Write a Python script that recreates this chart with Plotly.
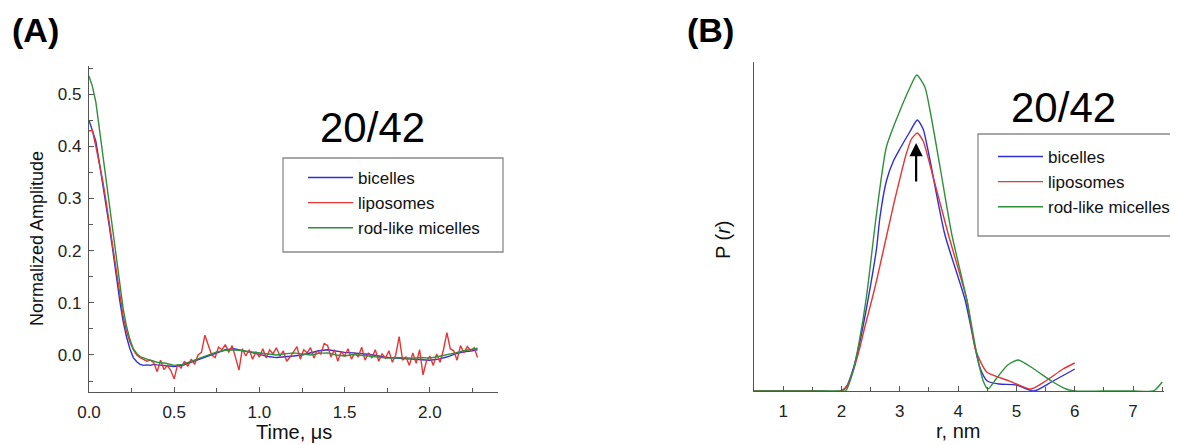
import plotly.graph_objects as go

# ---------------- Panel A data (DEER time traces) ----------------
t_red_step = 0.02
red = [0.43, 0.43, 0.40, 0.37, 0.335, 0.295, 0.25, 0.205, 0.16, 0.115,
       0.075, 0.045, 0.025, 0.01, 0.0, -0.005,
       -0.008, -0.012, -0.010, -0.015, -0.032,
       -0.010, -0.028, -0.020, -0.030, -0.046, -0.018, -0.025, -0.012, -0.022, -0.008,
       -0.018, 0.000, 0.005, 0.038, 0.020, 0.000, -0.005, 0.015, 0.010, 0.020,
       0.005, 0.018, -0.005, -0.029, 0.012, -0.002, 0.010, -0.008, 0.006, -0.004,
       0.012, -0.006, 0.010, 0.002, 0.014, -0.002, 0.008, -0.012, -0.004, 0.006,
       0.016, -0.008, 0.010, 0.004, 0.014, -0.006, 0.008, 0.002, 0.022, 0.018,
       -0.004, 0.010, -0.012, 0.006, -0.002, 0.012, -0.008, 0.004, -0.004, 0.015,
       -0.010, 0.004, -0.006, 0.010, -0.012, 0.002, -0.006, 0.008, -0.014, 0.000,
       0.035, -0.010, -0.004, -0.020, 0.004, -0.016, 0.010, -0.038, -0.012, -0.002,
       -0.020, 0.002, -0.014, 0.010, 0.043, 0.012, 0.008, -0.010, 0.018, 0.004,
       0.016, 0.008, 0.014, -0.005]
t_red = [round(i * t_red_step, 2) for i in range(len(red))]

t_bg = [0.00, 0.02, 0.04, 0.06, 0.08, 0.10, 0.12, 0.14, 0.16, 0.18,
        0.20, 0.22, 0.24, 0.26, 0.28, 0.30, 0.32, 0.34, 0.36, 0.38, 0.40,
        0.45, 0.50, 0.55, 0.60, 0.65, 0.70, 0.75, 0.80, 0.85, 0.90,
        0.95, 1.00, 1.05, 1.10, 1.15, 1.20, 1.25, 1.30, 1.35, 1.40,
        1.45, 1.50, 1.55, 1.60, 1.65, 1.70, 1.75, 1.80, 1.85, 1.90,
        1.95, 2.00, 2.05, 2.10, 2.15, 2.20, 2.25, 2.28]
blue = [0.45, 0.43, 0.41, 0.37, 0.33, 0.29, 0.245, 0.20, 0.15, 0.105,
        0.065, 0.035, 0.012, -0.005, -0.013, -0.018, -0.020, -0.019, -0.020, -0.018, -0.019,
        -0.021, -0.022, -0.020, -0.014, -0.008, -0.003, 0.004, 0.010, 0.012, 0.009,
        0.005, 0.001, -0.003, -0.005, -0.004, -0.002, 0.000, 0.004, 0.008, 0.010,
        0.007, 0.005, 0.004, 0.003, 0.001, -0.002, -0.005, -0.006, -0.007, -0.007,
        -0.009, -0.010, -0.008, -0.004, 0.002, 0.006, 0.008, 0.010]
green = [0.535, 0.515, 0.485, 0.435, 0.385, 0.335, 0.285, 0.235, 0.185, 0.135,
         0.090, 0.055, 0.030, 0.012, 0.003, -0.003, -0.006, -0.008, -0.010, -0.012, -0.014,
         -0.016, -0.020, -0.018, -0.012, -0.006, 0.000, 0.006, 0.009, 0.010, 0.008,
         0.006, 0.003, 0.001, 0.000, 0.002, 0.004, 0.002, 0.000, 0.003, 0.004,
         0.000, -0.002, 0.001, -0.001, -0.003, -0.004, -0.006, -0.005, -0.006, -0.006,
         -0.005, -0.006, -0.003, 0.000, 0.004, 0.008, 0.012, 0.013]

# ---------------- Panel B data (distance distributions) ----------------
r_blue = [0.5, 1.0, 1.5, 2.0, 2.1, 2.2, 2.3, 2.4, 2.5, 2.6, 2.66, 2.77, 2.89, 3.0, 3.17, 3.3,
          3.4, 3.5, 3.77, 4.12, 4.37, 4.5, 4.7, 5.0, 5.3, 5.6, 6.0]
p_blue = [0.0, 0.0, 0.0, 0.0, 0.06, 0.22, 0.45, 0.74, 1.06, 1.42, 1.74, 2.10, 2.30, 2.42, 2.59, 2.71,
          2.62, 2.36, 1.57, 0.91, 0.24, 0.10, 0.07, 0.06, 0.0, 0.09, 0.22]

r_red = [0.5, 1.0, 1.5, 2.0, 2.1, 2.2, 2.3, 2.4, 2.52, 2.6, 2.7, 2.8, 2.9, 3.0, 3.1, 3.2, 3.3,
         3.4, 3.5, 3.83, 4.15, 4.3, 4.49, 4.83, 5.0, 5.25, 5.5, 5.8, 6.0]
p_red = [0.0, 0.0, 0.0, 0.0, 0.05, 0.20, 0.40, 0.64, 0.91, 1.10, 1.36, 1.62, 1.88, 2.12, 2.35, 2.52, 2.58,
         2.50, 2.30, 1.57, 0.91, 0.41, 0.19, 0.11, 0.07, 0.02, 0.10, 0.22, 0.28]

r_green = [0.5, 1.0, 1.5, 2.0, 2.07, 2.2, 2.3, 2.43, 2.6, 2.77, 3.0, 3.17, 3.29, 3.43, 3.52, 3.69,
           3.89, 4.15, 4.32, 4.43, 4.51, 4.65, 4.85, 5.03, 5.3, 5.6, 5.85, 6.0, 6.5, 7.0, 7.35, 7.5]
p_green = [0.0, 0.0, 0.0, 0.0, 0.0, 0.20, 0.48, 0.95, 1.77, 2.44, 2.80, 3.03, 3.16, 3.04, 2.80, 2.24,
           1.57, 0.91, 0.37, 0.10, 0.02, 0.12, 0.26, 0.31, 0.22, 0.10, 0.02, 0.0, 0.0, 0.0, 0.0, 0.09]

names = ["bicelles", "liposomes", "rod-like micelles"]
colors = ["#2f2fd8", "#e53535", "#2f8f3a"]

# The page body has an 8px margin, so the figure is 16px smaller and
# reference pixel positions are shifted by that offset.
OFF = 8
W, H = 1178 - OFF, 445 - OFF
FONT = "Liberation Sans, Arial, sans-serif"
AX = "#555555"


def px(x):
    return (x - OFF) / W


def py(y):
    return 1 - (y - OFF) / H


fig = go.Figure()

for nm, c, tx, vy in zip(names, colors, [t_bg, t_red, t_bg], [blue, red, green]):
    fig.add_trace(go.Scatter(x=tx, y=vy, mode="lines", name=nm,
                             line=dict(color=c, width=1.4), xaxis="x", yaxis="y",
                             legend="legend"))
for nm, c, rx, pv in zip(names, colors, [r_blue, r_red, r_green], [p_blue, p_red, p_green]):
    fig.add_trace(go.Scatter(x=rx, y=pv, mode="lines", name=nm,
                             line=dict(color=c, width=1.4, shape="spline", smoothing=0.6),
                             xaxis="x2", yaxis="y2", legend="legend2"))

axis_common = dict(showline=True, linecolor=AX, linewidth=1.3, showgrid=False, zeroline=False,
                   ticks="inside", tickcolor=AX, ticklen=5, tickwidth=1.2,
                   tickfont=dict(family=FONT, size=17, color="#222"))

legend_font = dict(family=FONT, size=17, color="#111")

fig.update_layout(
    width=W, height=H, autosize=False,
    margin=dict(l=0, r=0, t=0, b=0, pad=0, autoexpand=False),
    paper_bgcolor="white", plot_bgcolor="white",
    font=dict(family=FONT, color="#111"),
    xaxis=dict(domain=[px(89), px(498)], range=[0, 2.4], anchor="y",
               tickvals=[0, 0.5, 1.0, 1.5, 2.0], tickformat=".1f",
               minor=dict(ticks="inside", ticklen=4, tickcolor=AX, dtick=0.25, tick0=0),
               ticklabelstandoff=4, **axis_common),
    yaxis=dict(domain=[py(392), py(66)], range=[-0.071, 0.554], anchor="x",
               tickvals=[0, 0.1, 0.2, 0.3, 0.4, 0.5], tickformat=".1f",
               minor=dict(ticks="inside", ticklen=4, tickcolor=AX, dtick=0.05, tick0=0),
               ticklabelstandoff=3, **axis_common),
    xaxis2=dict(domain=[px(754), px(1164)], range=[0.5, 7.53], anchor="y2",
                tickvals=[1, 2, 3, 4, 5, 6, 7],
                minor=dict(ticks="inside", ticklen=4, tickcolor=AX, dtick=0.5, tick0=0),
                ticklabelstandoff=4, **axis_common),
    yaxis2=dict(domain=[py(391), py(62)], range=[0, 3.29], anchor="x2",
                showline=True, linecolor=AX, linewidth=1.3, showgrid=False, zeroline=False,
                ticks="", showticklabels=False),
    legend=dict(x=px(303), y=py(160), xanchor="left", yanchor="top",
                bgcolor="rgba(0,0,0,0)", borderwidth=0, itemwidth=45,
                font=legend_font, tracegroupgap=0),
    legend2=dict(x=px(993), y=py(139), xanchor="left", yanchor="top",
                 bgcolor="rgba(0,0,0,0)", borderwidth=0, itemwidth=45,
                 font=legend_font, tracegroupgap=0),
    showlegend=True,
)

# legend frames
fig.add_shape(type="rect", xref="paper", yref="paper", x0=px(283), x1=px(503), y0=py(252), y1=py(158),
              line=dict(color="#8a8a8a", width=1.3), fillcolor="rgba(0,0,0,0)", layer="below")
fig.add_shape(type="rect", xref="paper", yref="paper", x0=px(978), x1=px(1177), y0=py(236), y1=py(134),
              line=dict(color="#8a8a8a", width=1.3), fillcolor="rgba(0,0,0,0)", layer="below")

ann = []
ann.append(dict(text="<b>(A)</b>", x=px(10), y=py(30), xanchor="left", yanchor="middle",
                font=dict(family=FONT, size=34, color="#000")))
ann.append(dict(text="<b>(B)</b>", x=px(685), y=py(30), xanchor="left", yanchor="middle",
                font=dict(family=FONT, size=34, color="#000")))
ann.append(dict(text="20/42", x=px(372), y=py(127), xanchor="center", yanchor="middle",
                font=dict(family=FONT, size=42, color="#000")))
ann.append(dict(text="20/42", x=px(1063), y=py(107), xanchor="center", yanchor="middle",
                font=dict(family=FONT, size=42, color="#000")))
ann.append(dict(text="Time, μs", x=px(294), y=py(432), xanchor="center", yanchor="middle",
                font=dict(family=FONT, size=20, color="#111")))
ann.append(dict(text="Normalized Amplitude", x=px(37), y=py(239), xanchor="center", yanchor="middle",
                textangle=-90, font=dict(family=FONT, size=18, color="#111")))
ann.append(dict(text="r, nm", x=px(958), y=py(431), xanchor="center", yanchor="middle",
                font=dict(family=FONT, size=20, color="#111")))
ann.append(dict(text="P (<i>r</i>)", x=px(723), y=py(240), xanchor="center", yanchor="middle",
                textangle=-90, font=dict(family=FONT, size=20, color="#111")))
for a in ann:
    a.update(xref="paper", yref="paper", showarrow=False)

# arrow marking the peak
ann.append(dict(x=3.28, y=2.48, ax=3.28, ay=2.08, xref="x2", yref="y2", axref="x2", ayref="y2",
                text="", showarrow=True, arrowhead=2, arrowsize=1.2, arrowwidth=2.2,
                arrowcolor="#000"))
fig.update_layout(annotations=ann)

fig.write_html("out.html")
